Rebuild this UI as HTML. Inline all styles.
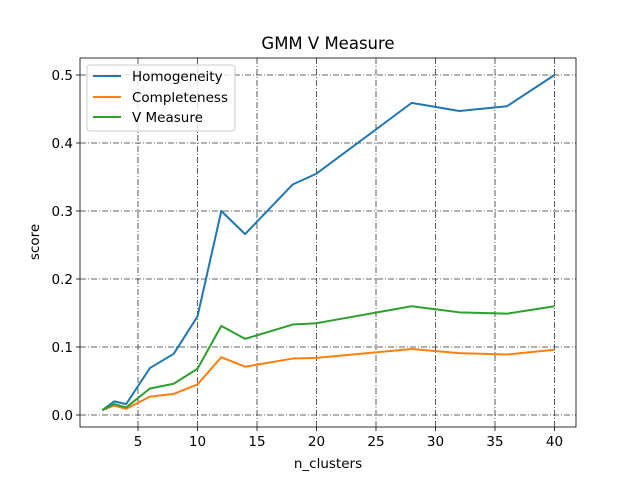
<!DOCTYPE html>
<html><head><meta charset="utf-8"><style>body{margin:0;background:#fff}svg text{font-family:"DejaVu Sans","Liberation Sans",sans-serif}</style></head>
<body>
<svg id="chart" width="640" height="480" xmlns="http://www.w3.org/2000/svg">
<rect width="640" height="480" fill="#fff"/>
<text x="328" y="49" font-size="16.5" text-anchor="middle">GMM V Measure</text>
<g id="grid"></g><g id="series"></g><g id="axes"></g>
<text x="328" y="468" font-size="13.5" text-anchor="middle">n_clusters</text>
<text transform="translate(39,242) rotate(-90)" font-size="13.5" text-anchor="middle">score</text>
<g>
<rect x="87" y="65" width="148" height="66" rx="3" fill="#fff" fill-opacity="0.8" stroke="#ccc"/>
<line x1="93" y1="76" x2="121" y2="76" stroke="#1f77b4" stroke-width="2"/><text x="132" y="81" font-size="13.5">Homogeneity</text>
<line x1="93" y1="97" x2="121" y2="97" stroke="#ff7f0e" stroke-width="2"/><text x="132" y="102" font-size="13.5">Completeness</text>
<line x1="93" y1="117" x2="121" y2="117" stroke="#2ca02c" stroke-width="2"/><text x="132" y="122" font-size="13.5">V Measure</text>
</g>
</svg>
<script>
const nClusters=[2,3,4,6,8,10,12,14,18,20,28,32,36,40];
const homogeneity=[0.007,0.02,0.016,0.069,0.09,0.145,0.3,0.266,0.339,0.355,0.459,0.447,0.454,0.5];
const completeness=[0.007,0.014,0.009,0.027,0.031,0.045,0.085,0.071,0.083,0.084,0.097,0.091,0.089,0.096];
const vMeasure=[0.007,0.016,0.011,0.039,0.046,0.068,0.131,0.112,0.133,0.135,0.16,0.151,0.149,0.16];
const xTicks=[5,10,15,20,25,30,35,40];
const yTicks=[0,0.1,0.2,0.3,0.4,0.5];
const L=80,R=576,T=58,B=427;
const xs=v=>78.5+(v-0)*11.9;
const ys=v=>415-v*680;
const NS='http://www.w3.org/2000/svg';
function mk(tag,attrs,parent){const e=document.createElementNS(NS,tag);for(const k in attrs)e.setAttribute(k,attrs[k]);parent.appendChild(e);return e;}
const grid=document.getElementById('grid'),axes=document.getElementById('axes'),series=document.getElementById('series');
xTicks.forEach(t=>{const x=xs(t);
 const g=mk('line',{x1:x,x2:x,y1:T,y2:B,stroke:'#333','stroke-width':0.8,'stroke-dasharray':'6,2,1,2'},grid);
 
 
 mk('line',{x1:x,x2:x,y1:B,y2:B+4,stroke:'#000','stroke-width':0.8},axes);
 const tx=mk('text',{x:x,y:B+19,'font-size':13.5,'text-anchor':'middle'},axes);tx.textContent=t;
 
 });
yTicks.forEach(t=>{const y=ys(t);
 const g=mk('line',{x1:L,x2:R,y1:y,y2:y,stroke:'#333','stroke-width':0.8,'stroke-dasharray':'6,2,1,2'},grid);
 
 
 mk('line',{x1:L-4,x2:L,y1:y,y2:y,stroke:'#000','stroke-width':0.8},axes);
 const tx=mk('text',{x:L-7,y:y+5,'font-size':13.5,'text-anchor':'end'},axes);tx.textContent=t.toFixed(1);
 
 });
const fr=mk('rect',{x:L,y:T,width:R-L,height:B-T,fill:'none',stroke:'#000','stroke-width':0.8},axes);


[[homogeneity,'#1f77b4','homogeneity-line'],[completeness,'#ff7f0e','completeness-line'],[vMeasure,'#2ca02c','v-measure-line']].forEach(([d,c,n])=>{
 const p=mk('polyline',{points:d.map((v,i)=>xs(nClusters[i])+','+ys(v)).join(' '),fill:'none',stroke:c,'stroke-width':2,'stroke-linejoin':'round'},series);
 
 });
</script>
</body></html>
